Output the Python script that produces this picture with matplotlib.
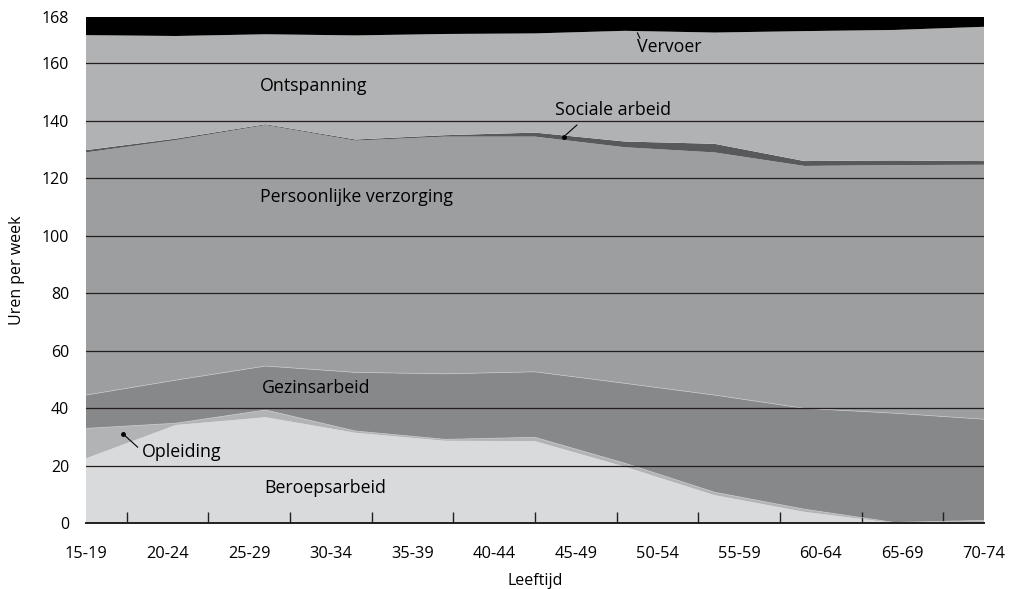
import numpy as np
import matplotlib
matplotlib.use("Agg")
import matplotlib.pyplot as plt

plt.rcParams['font.family'] = ['Open Sans', 'DejaVu Sans']

# leeftijdsgroepen (as-labels)
age_labels = ['15-19', '20-24', '25-29', '30-34', '35-39', '40-44',
              '45-49', '50-54', '55-59', '60-64', '65-69', '70-74']

beroepsarbeid = [22.6, 34.2, 36.9, 31.5, 28.7, 28.6, 19.7, 9.8, 4.0, 0.1, 0.4]
opleiding = [10.4, 0.6, 2.5, 0.6, 0.5, 1.3, 1.2, 1.0, 0.9, 0.2, 0.6]
gezinsarbeid = [11.6, 15.0, 15.3, 20.4, 22.8, 22.8, 27.8, 33.8, 35.1, 38.0, 35.2]
verzorging = [84.4, 83.5, 83.8, 80.6, 82.5, 81.8, 82.1, 84.4, 84.3, 86.3, 88.5]
sociale_arbeid = [0.8, 0.5, 0.3, 0.4, 0.5, 1.4, 2.0, 3.0, 1.7, 1.6, 1.3]
ontspanning = [40.0, 35.7, 31.3, 36.2, 35.2, 34.5, 38.5, 38.7, 45.2, 45.4, 46.7]
vervoer = [6.4, 6.7, 6.1, 6.5, 6.0, 5.8, 4.9, 5.5, 5.0, 4.6, 3.5]

layers = [beroepsarbeid, opleiding, gezinsarbeid, verzorging,
          sociale_arbeid, ontspanning, vervoer]
colors = ['#d9dadc', '#b2b3b5', '#87888a', '#9d9ea0',
          '#58595b', '#b1b2b4', '#000000']

n_lab = len(age_labels)
x = np.linspace(0, n_lab - 1, len(beroepsarbeid))

fig = plt.figure(figsize=(10.2, 5.89), dpi=100)
ax = fig.add_axes([0.0843, 0.1115, 0.8804, 0.8601])

ax.stackplot(x, *layers, colors=colors, linewidth=0)

# lichte randjes tussen de lagen
cum = np.cumsum(np.array(layers), axis=0)
ax.plot(x, cum[1], color='#c4c5c7', lw=0.6)
ax.plot(x, cum[2], color='#c4c5c7', lw=0.5)

top = cum[-1].max()
ax.set_xlim(0, n_lab - 1)
ax.set_ylim(0, top)

# rasterlijnen
for v in range(20, 161, 20):
    ax.axhline(v, color='#231f20', lw=0.9, zorder=3)

ax.set_yticks(list(range(0, 161, 20)) + [top])
ax.set_yticklabels([str(v) for v in range(0, 161, 20)] + ['168'])
ax.tick_params(axis='y', length=0, labelsize=11.5, pad=12)

ax.set_xticks(range(n_lab))
ax.set_xticklabels(age_labels)
ax.set_xticks([0] + list(np.arange(0.5, n_lab - 1, 1.0)), minor=True)
ax.tick_params(axis='x', which='major', length=0, labelsize=11.8, pad=16)
ax.tick_params(axis='x', which='minor', direction='in', length=8,
               width=1, color='#231f20')

for s in ['left', 'right', 'top']:
    ax.spines[s].set_visible(False)
ax.spines['bottom'].set_color('#231f20')
ax.spines['bottom'].set_linewidth(1.4)
ax.spines['bottom'].set_zorder(4)

ax.set_ylabel('Uren per week', fontsize=11.5, labelpad=12)
ax.set_xlabel('Leeftijd', fontsize=11.5, labelpad=8)

fs = 12.8
ax.text(2.13, 152.1, 'Ontspanning', fontsize=fs, va='center', zorder=5)
ax.text(2.13, 113.5, 'Persoonlijke verzorging', fontsize=fs, va='center', zorder=5)
ax.text(2.15, 47.1, 'Gezinsarbeid', fontsize=fs, va='center', zorder=5)
ax.text(2.18, 12.3, 'Beroepsarbeid', fontsize=fs, va='center', zorder=5)
ax.text(5.75, 143.8, 'Sociale arbeid', fontsize=fs, va='center', zorder=5)
ax.text(6.75, 165.7, 'Vervoer', fontsize=fs, va='center', zorder=5)
ax.text(0.68, 24.8, 'Opleiding', fontsize=fs, va='center', zorder=5)

# verbindingslijntjes
ax.annotate('', xy=(5.85, 134.4), xytext=(6.04, 139.2),
            arrowprops=dict(arrowstyle='-', color='black', lw=0.8), zorder=5)
ax.plot([5.85], [134.4], 'o', color='black', ms=2.5, zorder=5)
ax.annotate('', xy=(6.74, 171.5), xytext=(6.8, 167.8),
            arrowprops=dict(arrowstyle='-', color='black', lw=0.8), zorder=5)
ax.annotate('', xy=(0.457, 31.0), xytext=(0.66, 25.8),
            arrowprops=dict(arrowstyle='-', color='black', lw=0.8), zorder=5)
ax.plot([0.457], [31.0], 'o', color='black', ms=2.5, zorder=5)

fig.savefig('out.png', dpi=100)
